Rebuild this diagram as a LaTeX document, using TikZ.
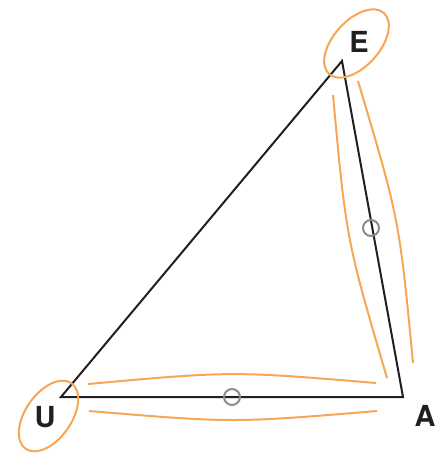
\documentclass[tikz,border=0pt]{standalone}
\usepackage{fontspec}
\setmainfont{TeX Gyre Heros}
\definecolor{arcorange}{RGB}{246,166,84}
\definecolor{edgeblack}{RGB}{35,31,32}
\definecolor{markgray}{RGB}{140,140,140}
\begin{document}
\begin{tikzpicture}[x=1pt,y=-1pt,
  edge/.style={draw=edgeblack,line width=2pt,line join=miter},
  arcline/.style={draw=arcorange,line width=2pt},
  midmark/.style={circle,draw=markgray,line width=2pt,minimum size=16pt,inner sep=0pt,fill=none},
  vlabel/.style={text=edgeblack,font=\fontsize{29}{29}\selectfont\bfseries,inner sep=0pt}]
\useasboundingbox (0,0) rectangle (445,454);
% vertices
\coordinate (E) at (342,61);
\coordinate (U) at (61,397);
\coordinate (A) at (403,397);
% triangle
\draw[edge] (U) -- (E) -- (A) -- cycle;
% labels
\node[vlabel] (lE) at (359,42) {E};
\node[vlabel] (lU) at (45,417) {U};
\node[vlabel] (lA) at (425,416) {A};
% ellipses
\draw[arcline,rotate around={48:(356.5,43.5)}] (356.5,43.5) ellipse [x radius=41, y radius=23];
\draw[arcline,rotate around={55:(48.5,416)}] (48.5,416) ellipse [x radius=40, y radius=23];
% arcs
\coordinate (b1s) at (88,384); \coordinate (b1e) at (376,383);
\coordinate (b2s) at (89,411); \coordinate (b2e) at (377,411);
\coordinate (r1s) at (333,95); \coordinate (r1e) at (387,378);
\coordinate (r2s) at (358,81); \coordinate (r2e) at (413,363);
\draw[arcline] (b1s) .. controls (232,371) .. (b1e);
\draw[arcline] (b2s) .. controls (233,423) .. (b2e);
\draw[arcline] (r1s) .. controls (346.3,239.6) .. (r1e);
\draw[arcline] (r2s) .. controls (399.3,219.4) .. (r2e);
% midpoint marks
\node[midmark] (mUA) at (232,397) {};
\node[midmark] (mEA) at (371,228) {};
\end{tikzpicture}
\end{document}
